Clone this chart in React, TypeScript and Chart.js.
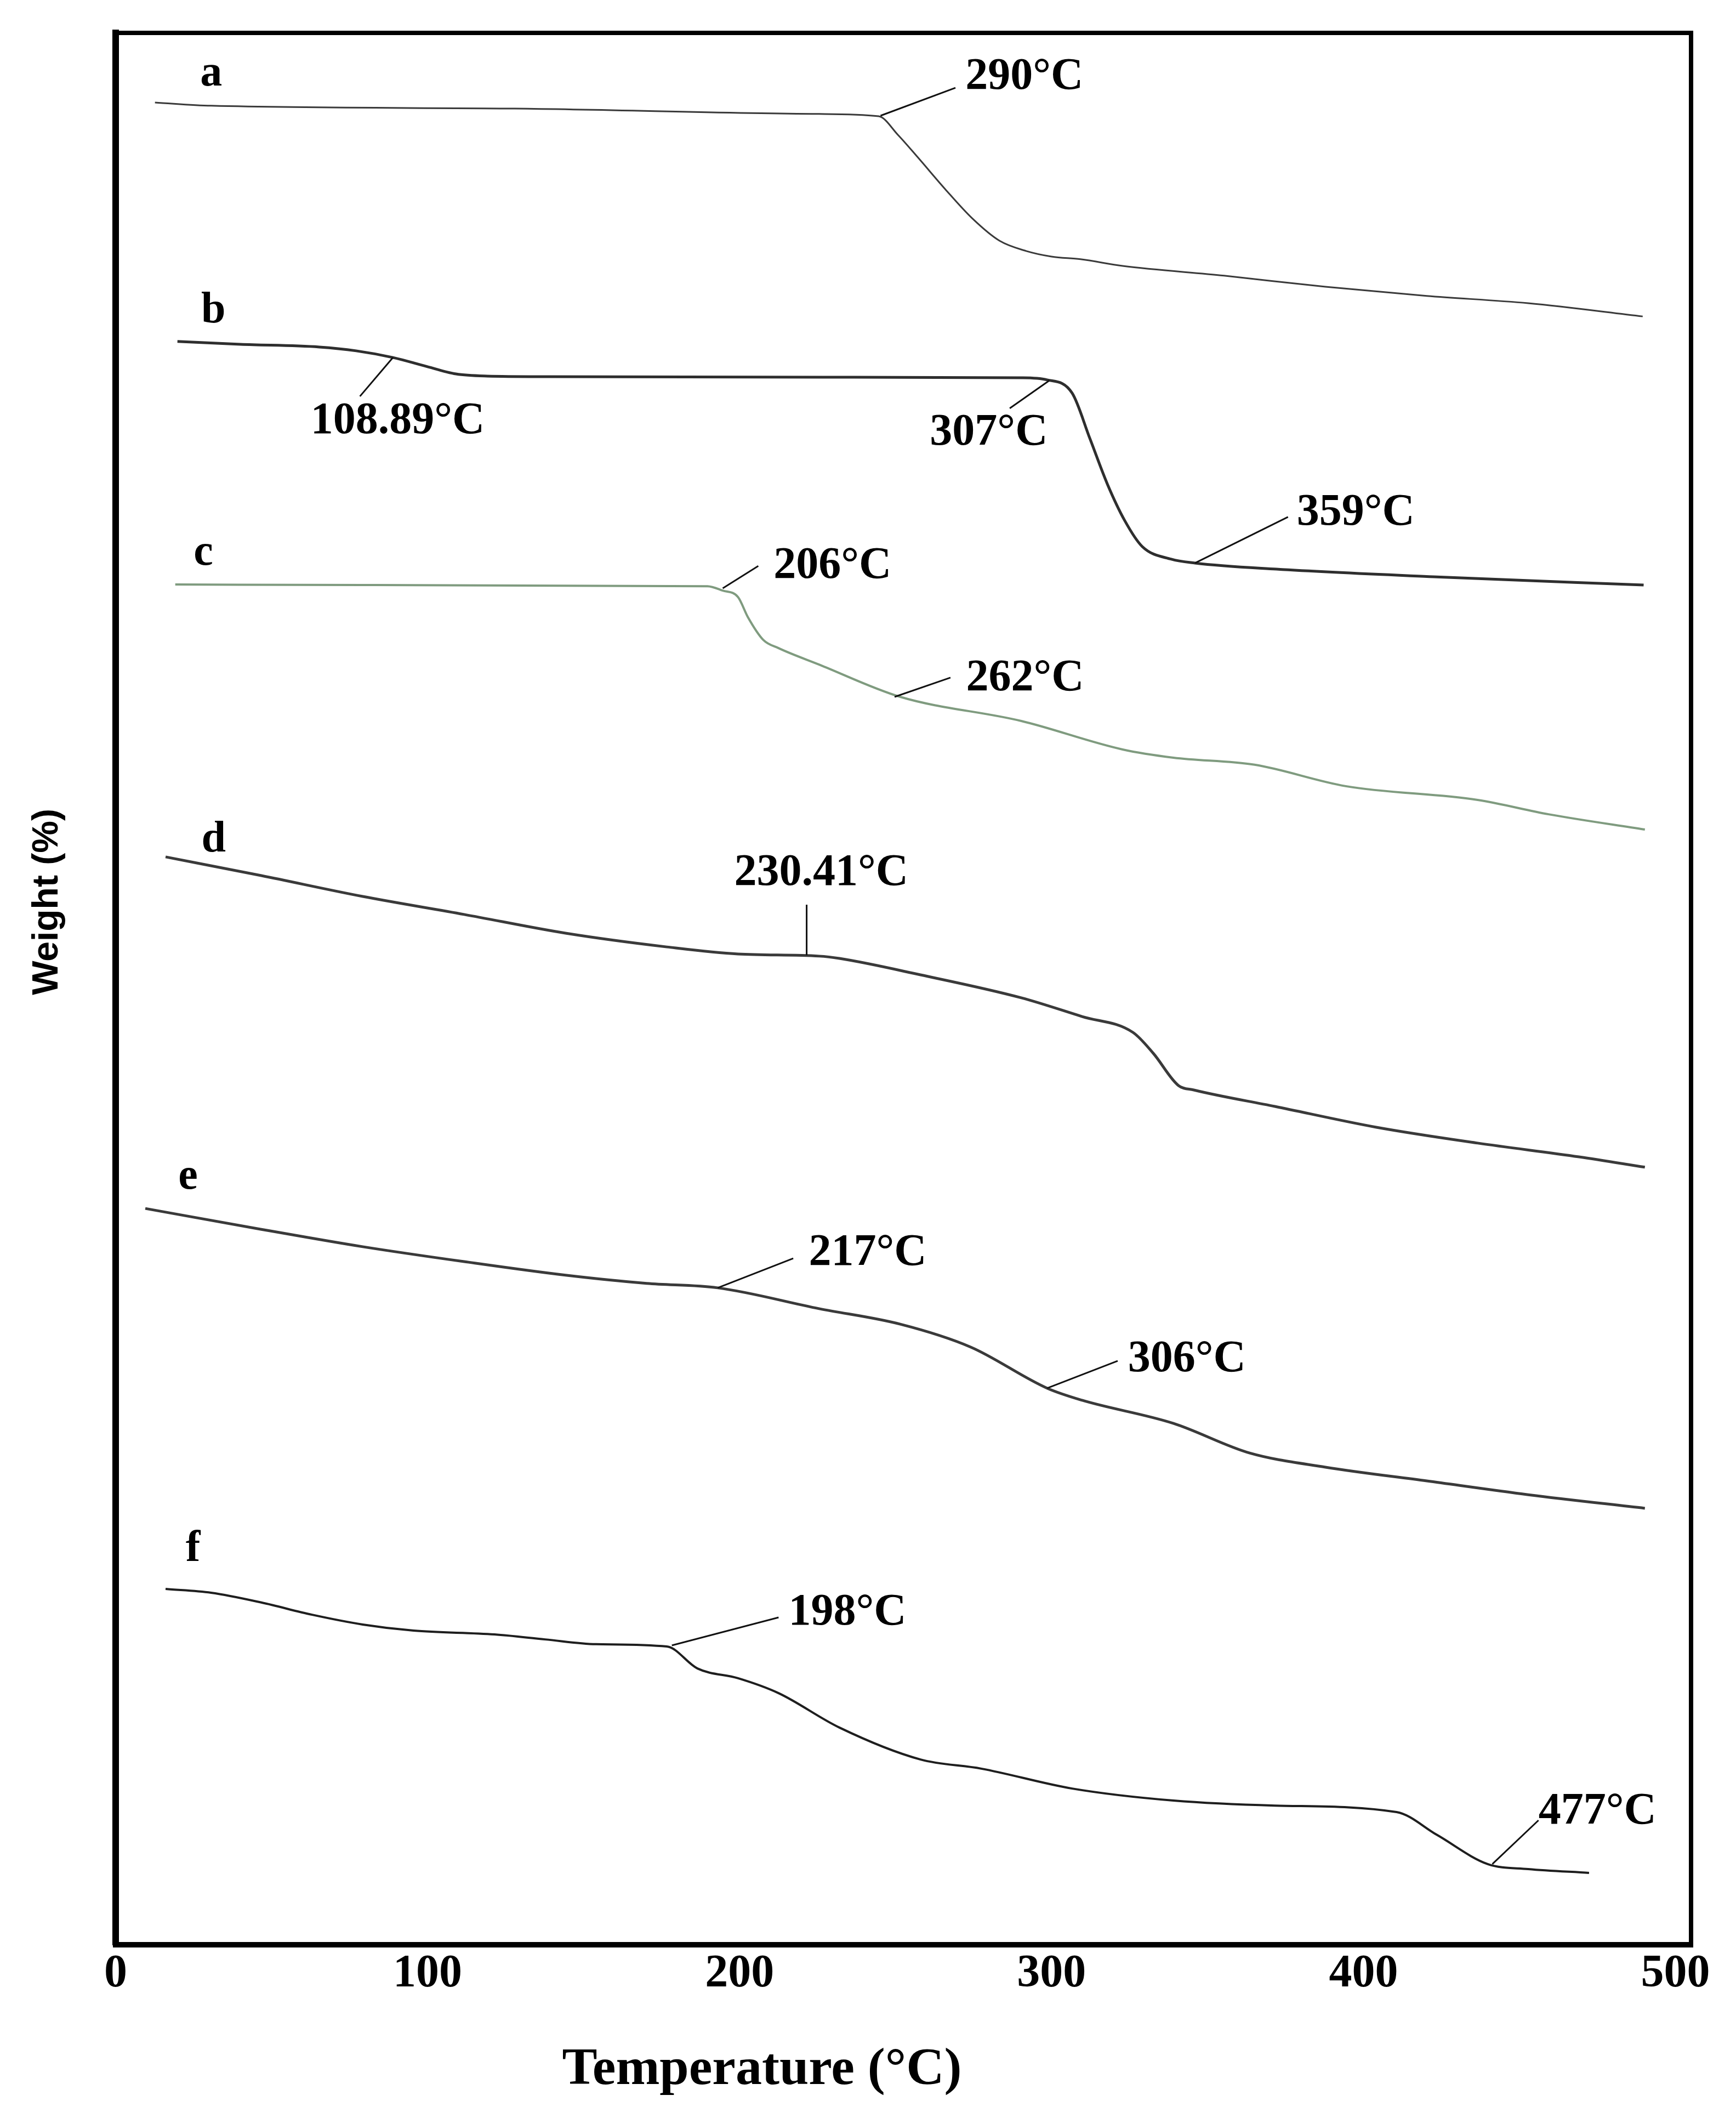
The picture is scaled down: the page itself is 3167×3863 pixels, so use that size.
import React, { useEffect, useRef } from "react";
import { Chart, registerables } from "chart.js";

Chart.register(...registerables);

// ---- Data (temperature in axis units °C, weight in arbitrary % units of the stacked plot) ----
const tempA = [12.6, 30.6, 128.0, 225.5, 244.6, 250.8, 257.3, 265.9, 274.7, 283.3, 291.9, 300.0, 309.3, 322.8, 355.3, 387.8, 420.3, 452.8, 489.5];
const weightA = [96.36, 96.19, 96.04, 95.76, 95.64, 94.66, 93.46, 91.83, 90.28, 89.13, 88.59, 88.30, 88.16, 87.81, 87.30, 86.72, 86.24, 85.86, 85.17];

const tempB = [19.8, 40.0, 65.3, 77.1, 88.9, 98.9, 109.1, 119.1, 139.3, 236.7, 290.3, 298.6, 306.6, 312.3, 317.9, 323.5, 329.1, 338.4, 346.0, 372.1, 422.5, 489.8];
const weightB = [83.86, 83.71, 83.57, 83.37, 83.02, 82.59, 82.16, 82.05, 82.02, 81.99, 81.96, 81.85, 81.16, 78.78, 76.40, 74.48, 73.13, 72.47, 72.27, 71.95, 71.55, 71.12];

const tempC = [19.1, 79.2, 189.7, 194.6, 199.5, 202.7, 207.6, 212.5, 225.5, 251.5, 290.3, 322.8, 339.1, 365.1, 394.3, 436.6, 459.3, 490.2];
const weightC = [71.15, 71.12, 71.06, 70.83, 70.49, 69.43, 68.25, 67.82, 66.96, 65.27, 64.01, 62.52, 62.09, 61.72, 60.60, 59.88, 59.13, 58.33];

const tempD = [16.0, 46.7, 79.2, 111.7, 144.2, 176.7, 199.5, 225.5, 232.0, 258.0, 290.3, 309.8, 326.1, 332.6, 340.7, 345.6, 371.6, 404.1, 436.6, 469.1, 490.2];
const weightD = [56.90, 55.92, 54.83, 53.89, 52.91, 52.19, 51.82, 51.71, 51.59, 50.73, 49.53, 48.55, 47.72, 46.63, 44.94, 44.71, 43.85, 42.76, 41.93, 41.21, 40.67];

const tempE = [9.5, 46.7, 79.2, 111.7, 144.2, 170.2, 193.0, 225.5, 251.5, 274.1, 298.6, 309.8, 339.1, 363.5, 387.8, 420.3, 452.8, 490.2];
const weightE = [38.51, 37.42, 36.51, 35.73, 35.02, 34.59, 34.36, 33.27, 32.46, 31.26, 29.11, 28.48, 27.27, 25.72, 24.98, 24.26, 23.54, 22.83];

const tempF = [16.0, 30.6, 46.7, 63.0, 79.2, 95.5, 121.5, 137.7, 154.0, 176.7, 186.5, 199.5, 212.5, 232.0, 258.0, 277.5, 306.6, 339.1, 371.6, 410.6, 423.6, 439.8, 452.8, 472.3];
const weightF = [18.61, 18.41, 17.90, 17.26, 16.75, 16.43, 16.23, 15.97, 15.72, 15.60, 14.45, 13.94, 13.16, 11.36, 9.69, 9.21, 8.17, 7.54, 7.28, 6.94, 5.74, 4.22, 3.96, 3.76];

const xTicks = [0, 100, 200, 300, 400, 500];

// curve letters
const curveNames = ["a", "b", "c", "d", "e", "f"];
const curveNameT = [30.6, 31.3, 28.1, 31.4, 23.2, 24.8];
const curveNameW = [97.85, 85.46, 72.78, 57.79, 40.15, 20.68];

// event annotations
const eventTexts = ["290°C", "108.89°C", "307°C", "359°C", "206°C", "262°C", "230.41°C", "217°C", "306°C", "198°C", "477°C"];
const eventAnchorT = [245.2, 88.9, 299.3, 346.0, 194.6, 249.7, 221.5, 193.0, 298.6, 178.3, 441.3];
const eventAnchorW = [95.67, 83.02, 81.82, 72.27, 70.95, 65.27, 51.76, 34.36, 29.11, 15.66, 4.22];
const eventLeaderT = [269.2, 78.3, 286.6, 375.8, 206.0, 267.6, 221.5, 217.2, 321.2, 212.5, 456.1];
const eventLeaderW = [97.13, 80.99, 80.36, 74.68, 72.12, 66.28, 54.40, 35.90, 30.54, 17.12, 6.51];
const eventTextT = [272.4, 62.5, 261.0, 378.6, 210.9, 272.6, 198.3, 222.2, 324.5, 215.7, 456.1];
const eventTextW = [97.68, 79.67, 79.07, 74.88, 72.10, 66.22, 56.04, 36.16, 30.60, 17.35, 6.94];

const seriesT = [tempA, tempB, tempC, tempD, tempE, tempF];
const seriesW = [weightA, weightB, weightC, weightD, weightE, weightF];
const seriesColor = ["#3a3a3a", "#2e2e2e", "#7f9b7f", "#3a3a3a", "#3a3a3a", "#1e1e1e"];
const seriesWidth = [3, 5, 4, 5, 5, 4];

const SERIF = '"Liberation Serif", "Times New Roman", serif';
const SANS = '"Liberation Sans", Arial, sans-serif';

const annotatePlugin = {
  id: "annotate",
  afterDraw(chart: any) {
    const { ctx, chartArea } = chart;
    const xs = chart.scales.x;
    const ys = chart.scales.y;
    const px = (t: number) => xs.getPixelForValue(t);
    const py = (w: number) => ys.getPixelForValue(w);
    ctx.save();
    // frame top and right
    ctx.strokeStyle = "#000";
    ctx.lineWidth = 8;
    ctx.beginPath();
    ctx.moveTo(chartArea.left - 6, chartArea.top);
    ctx.lineTo(chartArea.right, chartArea.top);
    ctx.lineTo(chartArea.right, chartArea.bottom + 5);
    ctx.stroke();

    // leader lines
    ctx.lineWidth = 3;
    ctx.strokeStyle = "#111";
    for (let i = 0; i < eventTexts.length; i++) {
      ctx.beginPath();
      ctx.moveTo(px(eventAnchorT[i]), py(eventAnchorW[i]));
      ctx.lineTo(px(eventLeaderT[i]), py(eventLeaderW[i]));
      ctx.stroke();
    }

    // event labels
    ctx.fillStyle = "#000";
    ctx.font = `bold 82px ${SERIF}`;
    ctx.textAlign = "left";
    ctx.textBaseline = "middle";
    for (let i = 0; i < eventTexts.length; i++) {
      ctx.fillText(eventTexts[i], px(eventTextT[i]), py(eventTextW[i]));
    }

    // curve letters
    ctx.font = `bold 80px ${SERIF}`;
    ctx.textAlign = "center";
    for (let i = 0; i < curveNames.length; i++) {
      ctx.fillText(curveNames[i], px(curveNameT[i]), py(curveNameW[i]));
    }

    // x axis title
    ctx.font = `bold 96px ${SERIF}`;
    ctx.textAlign = "center";
    ctx.fillText("Temperature (°C)", 1390, 3776);

    // y axis title
    ctx.save();
    ctx.translate(87, 1645);
    ctx.rotate(-Math.PI / 2);
    ctx.font = `bold 66px ${SANS}`;
    ctx.textAlign = "center";
    ctx.textBaseline = "middle";
    ctx.fillText("Weight (%)", 0, 0);
    ctx.restore();

    ctx.restore();
  },
};

export default function App() {
  const canvasRef = useRef<HTMLCanvasElement | null>(null);

  useEffect(() => {
    const canvas = canvasRef.current;
    if (!canvas) return;
    const datasets = seriesT.map((ts, si) => ({
      label: curveNames[si],
      data: ts.map((t, i) => ({ x: t, y: seriesW[si][i] })),
      borderColor: seriesColor[si],
      borderWidth: seriesWidth[si],
      pointRadius: 0,
      fill: false,
      cubicInterpolationMode: "monotone" as const,
    }));
    const chart = new Chart(canvas, {
      type: "line",
      data: { datasets },
      options: {
        responsive: false,
        maintainAspectRatio: false,
        animation: false,
        layout: { padding: { top: 60, right: 82, left: 0, bottom: 0 } },
        plugins: {
          legend: { display: false },
          tooltip: { enabled: false },
          title: { display: false },
        },
        scales: {
          x: {
            type: "linear",
            min: 0,
            max: 505,
            grid: { display: false, drawTicks: false },
            border: { display: true, color: "#000", width: 10 },
            ticks: {
              color: "#000",
              padding: 4,
              font: { family: SERIF, size: 84, weight: "bold" },
              maxRotation: 0,
            },
            afterBuildTicks: (scale: any) => {
              scale.ticks = xTicks.map((value) => ({ value }));
            },
            afterFit: (scale: any) => {
              scale.height = 316;
            },
          },
          y: {
            type: "linear",
            min: 0,
            max: 100,
            grid: { display: false, drawTicks: false },
            border: { display: true, color: "#000", width: 12 },
            ticks: { display: false },
            afterFit: (scale: any) => {
              scale.width = 211;
            },
          },
        },
      },
      plugins: [annotatePlugin],
    } as any);
    return () => chart.destroy();
  }, []);

  return (
    <div style={{ position: "absolute", left: 0, top: 0, width: 3167, height: 3863, background: "#fff" }}>
      <canvas ref={canvasRef} width={3167} height={3863} style={{ display: "block" }} />
    </div>
  );
}
